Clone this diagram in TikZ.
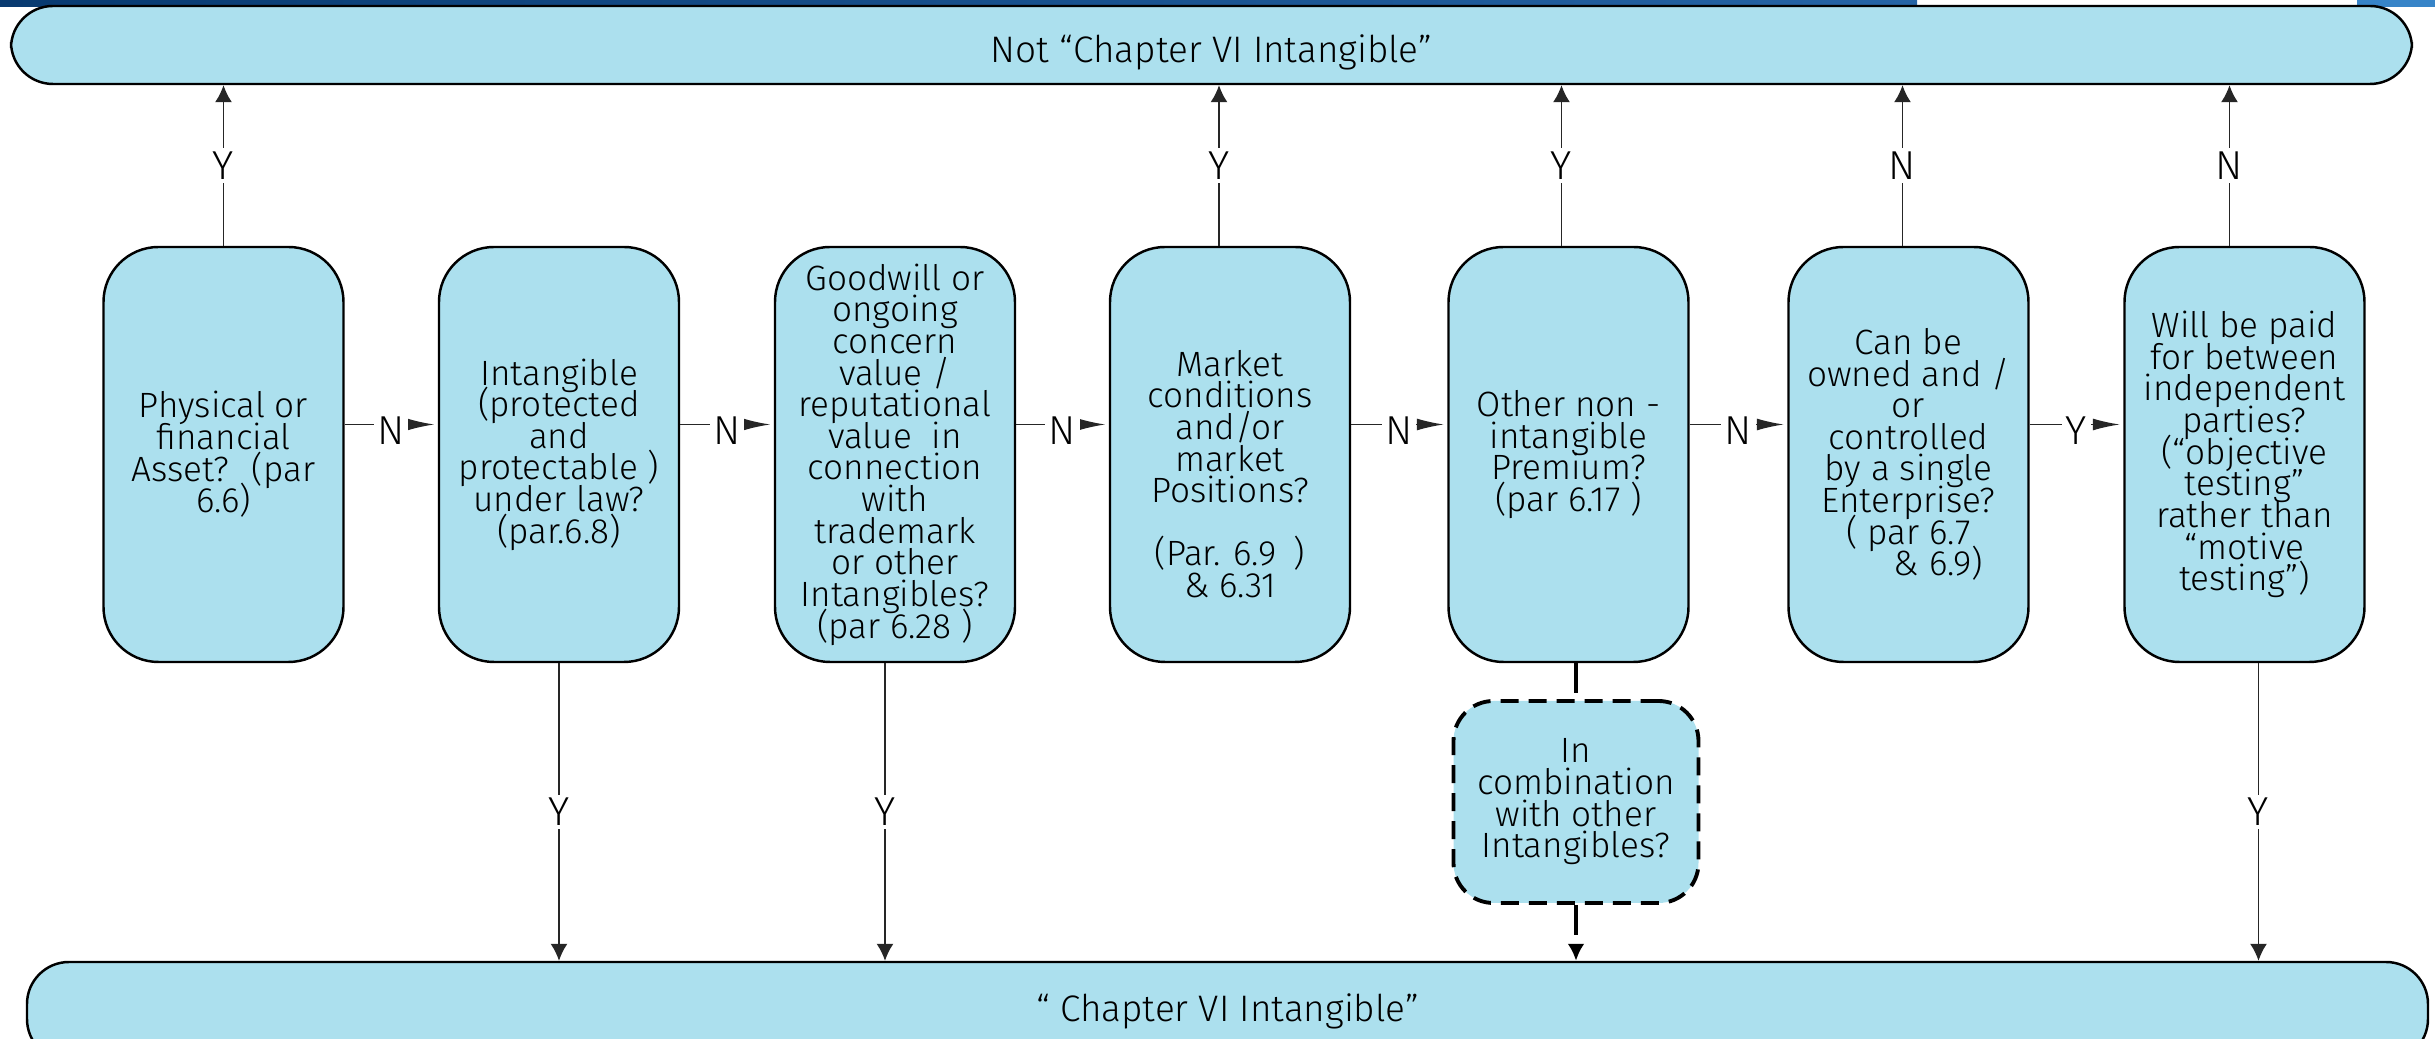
\documentclass[tikz,border=0pt]{standalone}
\usepackage{fontspec}
\setmainfont{Fira Sans Light}
\usetikzlibrary{arrows.meta}
\definecolor{boxblue}{RGB}{172,224,238}
\definecolor{navy}{RGB}{8,58,112}
\definecolor{midblue}{RGB}{38,100,165}
\definecolor{skyblue}{RGB}{55,132,200}
\newcommand{\tightfont}{\fontsize{10}{9}\selectfont\lineskiplimit=-10pt\relax}

\begin{document}
\begin{tikzpicture}[>={Latex[length=1.7mm,width=1.7mm]},
    q/.style={draw, fill=boxblue, line width=0.7pt, rounded corners=0.55cm,
              minimum width=2.4cm, minimum height=4.15cm, align=center,
              inner sep=0pt, font=\tightfont},
    banner/.style={draw, fill=boxblue, line width=0.7pt, rounded corners=0.42cm,
              minimum width=24.01cm, inner sep=0pt, font=\fontsize{10.5}{12}\selectfont},
    lbl/.style={fill=white, inner sep=1pt, font=\fontsize{11.5}{12}\selectfont},
    flow/.style={line width=0.4pt, draw=black!85},
    hflow/.style={flow, -{Latex[length=2.7mm,width=1.2mm]}, shorten >=1pt},
    dline/.style={line width=1.1pt, dash pattern=on 3mm off 1.2mm}]
\useasboundingbox (0,0) rectangle (24.35,10.39);

% slide residue at the edges
\fill[left color=navy, right color=midblue] (0,10.32) rectangle (19.17,10.39);
\fill[skyblue] (23.57,10.32) rectangle (24.35,10.39);
\fill[skyblue] (0.40,0) rectangle (2.0,0.07);

\node[banner, minimum height=0.78cm] (top) at (12.115,9.94) {\raisebox{-0.18cm}[0pt][0pt]{Not “Chapter VI Intangible”}};
\node[banner, minimum height=0.99cm] (bot) at (12.275,0.275) {“ Chapter VI Intangible”};

\node[q] (1) at (2.235,5.845) {Physical or\\financial\\Asset?~ (par\\6.6)};
\node[q] (2) at (5.59,5.845) {Intangible\\(protected\\and\\protectable )\\under law?\\(par.6.8)};
\node[q] (3) at (8.95,5.845) {Goodwill or\\ongoing\\concern\\value /\\reputational\\value~ in\\connection\\with\\trademark\\or other\\Intangibles?\\(par 6.28 )};
\node[q] (4) at (12.30,5.845) {\rule{0pt}{0.65cm}Market\\conditions\\and/or\\market\\Positions?\\[0.315cm](Par. 6.9\hspace{0.5em})\\\& 6.31};
\node[q] (5) at (15.685,5.845) {Other non -\\intangible\\Premium?\\(par 6.17 )};
\node[q] (6) at (19.085,5.845) {Can be\\owned and /\\or\\controlled\\by a single\\Enterprise?\\( par 6.7\hspace*{0.45cm}\\\hspace*{0.6cm}\& 6.9)};
\node[q] (7) at (22.445,5.845) {Will be paid\\for between\\independent\\parties?\\(“objective\\testing”\\rather than\\“motive\\testing”)};

\node[draw, fill=boxblue, line width=1.1pt, dash pattern=on 1.8mm off 1mm,
      rounded corners=0.4cm, minimum width=2.45cm, minimum height=2.02cm,
      align=center, inner sep=0pt, font=\tightfont]
      (c) at (15.76,2.37) {In\\combination\\with other\\Intangibles?};

% along the row
\draw[hflow] ([yshift=0.3cm]1.east) -- node[lbl,yshift=-0.06cm] {N} ([yshift=0.3cm]2.west);
\draw[hflow] ([yshift=0.3cm]2.east) -- node[lbl,yshift=-0.06cm] {N} ([yshift=0.3cm]3.west);
\draw[hflow] ([yshift=0.3cm]3.east) -- node[lbl,yshift=-0.06cm] {N} ([yshift=0.3cm]4.west);
\draw[hflow] ([yshift=0.3cm]4.east) -- node[lbl,yshift=-0.06cm] {N} ([yshift=0.3cm]5.west);
\draw[hflow] ([yshift=0.3cm]5.east) -- node[lbl,yshift=-0.06cm] {N} ([yshift=0.3cm]6.west);
\draw[hflow] ([yshift=0.3cm]6.east) -- node[lbl,yshift=-0.06cm] {Y} ([yshift=0.3cm]7.west);

% up to the top
\draw[flow,->] (1.north) -- node[lbl] {Y} (1.north |- top.south);
\draw[flow,->] ([xshift=-0.11cm]4.north) -- node[lbl] {Y} ([xshift=-0.11cm]4.north |- top.south);
\draw[flow,->] ([xshift=-0.07cm]5.north) -- node[lbl] {Y} ([xshift=-0.07cm]5.north |- top.south);
\draw[flow,->] ([xshift=-0.06cm]6.north) -- node[lbl] {N} ([xshift=-0.06cm]6.north |- top.south);
\draw[flow,->] ([xshift=-0.15cm]7.north) -- node[lbl] {N} ([xshift=-0.15cm]7.north |- top.south);

% down to the bottom
\draw[flow,->] (2.south) -- node[lbl] {Y} (2.south |- bot.north);
\draw[flow,->] ([xshift=-0.1cm]3.south) -- node[lbl] {Y} ([xshift=-0.1cm]3.south |- bot.north);
\draw[flow,->] ([xshift=0.14cm]7.south) -- node[lbl] {Y} ([xshift=0.14cm]7.south |- bot.north);

\draw[dline] (c.north |- 5.south) -- (c.north);
\draw[dline,->] (c.south) -- (c.south |- bot.north);

\end{tikzpicture}
\end{document}
